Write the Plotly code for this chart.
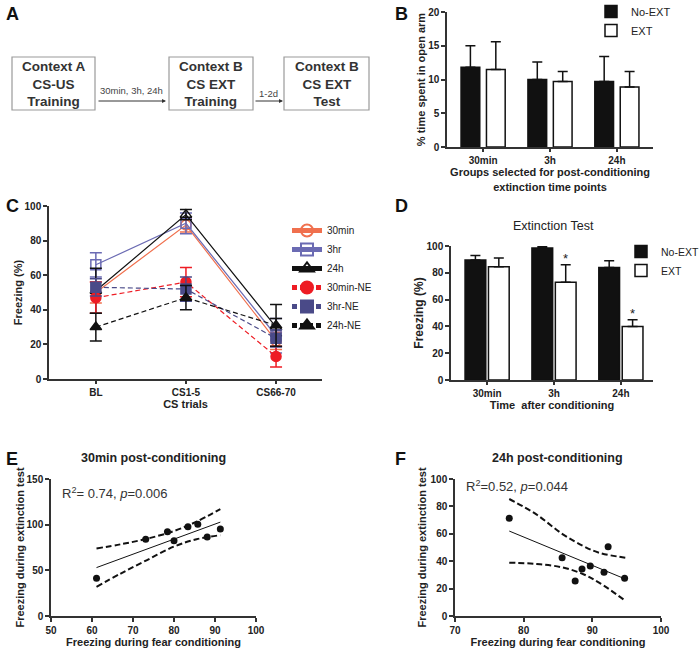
import plotly.graph_objects as go

W, H = 700, 649
FONT = "Liberation Sans, Arial, sans-serif"
INK = "#222222"

# ---------------- data ----------------
b_groups = ["30min", "3h", "24h"]
b_noext = [11.8, 10.0, 9.7]
b_noext_err = [3.2, 2.6, 3.7]
b_ext = [11.5, 9.7, 8.9]
b_ext_err = [4.1, 1.5, 2.3]

c_trials = ["BL", "CS1-5", "CS66-70"]
c_30min = [50, 89, 22]
c_30min_err = [6, 4, 5]
c_3hr = [66, 90, 25]
c_3hr_err = [7, 6, 10]
c_24h = [51, 95, 30]
c_24h_err = [13, 3, 5]
c_30min_ne = [47, 56, 13]
c_30min_ne_err = [9, 8.5, 6]
c_3hr_ne = [53, 52, 23.5]
c_3hr_ne_err = [5, 7, 5]
c_24h_ne = [30, 47, 31]
c_24h_ne_err = [8, 7, 12]

d_groups = ["30min", "3h", "24h"]
d_noext = [89.5, 98.5, 84]
d_noext_err = [3.5, 1, 5]
d_ext = [84.5, 73, 40]
d_ext_err = [6.5, 13, 5]
d_sig = ["", "*", "*"]

e_x = [61.1, 73.1, 78.4, 80.0, 83.4, 85.8, 88.1, 91.3]
e_y = [41.3, 84.0, 92.3, 82.5, 97.8, 100.4, 86.5, 95.3]
e_fit_x = [61.1, 91.3]
e_fit_y = [53, 102.8]
e_band_x = [61.1, 67, 73.3, 80, 85.5, 91.3]
e_upper = [74, 78.5, 84.5, 93, 103.3, 117]
e_lower = [32, 46.5, 61, 76, 84, 88.5]

f_x = [77.9, 85.6, 87.5, 88.5, 89.7, 91.7, 92.3, 94.7]
f_y = [71.3, 42.6, 25.5, 34.3, 36.5, 31.9, 50.6, 27.5]
f_fit_x = [77.9, 94.8]
f_fit_y = [62, 27]
f_band_x = [77.9, 81.9, 85.6, 88.7, 91.1, 94.8]
f_upper = [85.4, 74, 60, 51, 46, 42.6]
f_lower = [38.9, 38, 35.5, 30.5, 24, 11.2]


def xd(px):
    return px / W


def yd(py):
    return 1 - py / H


fig = go.Figure()

# ---------------- Panel B ----------------
fig.add_trace(go.Bar(x=b_groups, y=b_noext, name="No-EXT", marker=dict(color="#111111", line=dict(color="#111111", width=1.5)),
                     width=0.28, offset=-0.33,
                     error_y=dict(type="data", array=b_noext_err, arrayminus=[0] * 3, symmetric=False, color="#111111", thickness=1.5, width=5),
                     xaxis="x", yaxis="y", legend="legend"))
fig.add_trace(go.Bar(x=b_groups, y=b_ext, name="EXT", marker=dict(color="white", line=dict(color="#111111", width=1.5)),
                     width=0.28, offset=0.05,
                     error_y=dict(type="data", array=b_ext_err, arrayminus=[0] * 3, symmetric=False, color="#111111", thickness=1.5, width=5),
                     xaxis="x", yaxis="y", legend="legend"))

# ---------------- Panel C ----------------
c_series = [
    ("30min", c_30min, c_30min_err, "#F0704E", "circle-open", "solid", "legend2"),
    ("3hr", c_3hr, c_3hr_err, "#6B6BB3", "square-open", "solid", "legend2"),
    ("24h", c_24h, c_24h_err, "#111111", "triangle-up-open", "solid", "legend2"),
    ("30min-NE", c_30min_ne, c_30min_ne_err, "#EE1C24", "circle", "5px,3px", "legend4"),
    ("3hr-NE", c_3hr_ne, c_3hr_ne_err, "#4A4A88", "square", "5px,3px", "legend4"),
    ("24h-NE", c_24h_ne, c_24h_ne_err, "#111111", "triangle-up", "5px,3px", "legend4"),
]
for name, vals, errs, col, sym, dash, leg in c_series:
    fig.add_trace(go.Scatter(x=c_trials, y=vals, name=name, mode="lines+markers",
                             line=dict(color=col, width=1.2, dash=dash),
                             marker=dict(symbol=sym, size=10, color=col, line=dict(color=col, width=1.5)),
                             error_y=dict(type="data", array=errs, color=col, thickness=1.5, width=6),
                             xaxis="x2", yaxis="y2", legend=leg))

# ---------------- Panel D ----------------
fig.add_trace(go.Bar(x=d_groups, y=d_noext, name="No-EXT", marker=dict(color="#111111", line=dict(color="#111111", width=1.5)),
                     width=0.31, offset=-0.33,
                     error_y=dict(type="data", array=d_noext_err, arrayminus=[0] * 3, symmetric=False, color="#111111", thickness=1.5, width=5),
                     xaxis="x3", yaxis="y3", legend="legend3"))
fig.add_trace(go.Bar(x=d_groups, y=d_ext, name="EXT", marker=dict(color="white", line=dict(color="#111111", width=1.5)),
                     width=0.31, offset=0.02,
                     error_y=dict(type="data", array=d_ext_err, arrayminus=[0] * 3, symmetric=False, color="#111111", thickness=1.5, width=5),
                     xaxis="x3", yaxis="y3", legend="legend3"))
for i, s in enumerate(d_sig):
    if s:
        fig.add_annotation(x=i + 0.175, y=d_ext[i] + d_ext_err[i], text=s, showarrow=False, yshift=6,
                           xanchor="center", yanchor="middle",
                           xref="x3", yref="y3", font=dict(family=FONT, size=13, color=INK))

# ---------------- Panel E ----------------
BAND = dict(color="#111111", width=2, dash="6px,3px", shape="spline")
fig.add_trace(go.Scatter(x=e_band_x, y=e_upper, mode="lines", line=BAND, showlegend=False, xaxis="x4", yaxis="y4"))
fig.add_trace(go.Scatter(x=e_band_x, y=e_lower, mode="lines", line=BAND, showlegend=False, xaxis="x4", yaxis="y4"))
fig.add_trace(go.Scatter(x=e_fit_x, y=e_fit_y, mode="lines", line=dict(color="#111111", width=1),
                         showlegend=False, xaxis="x4", yaxis="y4"))
fig.add_trace(go.Scatter(x=e_x, y=e_y, mode="markers", marker=dict(color="#111111", size=7),
                         showlegend=False, xaxis="x4", yaxis="y4"))

# ---------------- Panel F ----------------
fig.add_trace(go.Scatter(x=f_band_x, y=f_upper, mode="lines", line=BAND, showlegend=False, xaxis="x5", yaxis="y5"))
fig.add_trace(go.Scatter(x=f_band_x, y=f_lower, mode="lines", line=BAND, showlegend=False, xaxis="x5", yaxis="y5"))
fig.add_trace(go.Scatter(x=f_fit_x, y=f_fit_y, mode="lines", line=dict(color="#111111", width=1),
                         showlegend=False, xaxis="x5", yaxis="y5"))
fig.add_trace(go.Scatter(x=f_x, y=f_y, mode="markers", marker=dict(color="#111111", size=7),
                         showlegend=False, xaxis="x5", yaxis="y5"))

# ---------------- axes ----------------
tickfont = dict(family=FONT, size=10, color=INK, weight="bold")
titlefont = dict(family=FONT, size=11, color=INK, weight="bold")


def ax(domain, **kw):
    d = dict(domain=domain, showline=True, linecolor="#333333", linewidth=1.5, ticks="outside",
             ticklen=4, tickwidth=1.5, tickcolor="#333333", showgrid=False, zeroline=False,
             tickfont=tickfont, automargin=False, title=dict(font=titlefont))
    d.update(kw)
    return d


legfont = dict(family=FONT, size=10, color=INK)
layout = dict(
    width=W, height=H, margin=dict(l=0, r=0, t=0, b=0, autoexpand=False), plot_bgcolor="white", paper_bgcolor="white",
    font=dict(family=FONT, color=INK), barmode="overlay",
    xaxis=ax([xd(447), xd(653)], anchor="y", type="category", range=[-0.54, 2.54], ticklen=3,
             title=dict(text="Groups selected for post-conditioning<br>extinction time points", font=titlefont, standoff=4)),
    yaxis=ax([yd(147), yd(12)], anchor="x", range=[0, 20], tickvals=[0, 5, 10, 15, 20],
             title=dict(text="% time spent in open arm", font=titlefont, standoff=0)),
    xaxis2=ax([xd(49), xd(322)], anchor="y2", type="category", range=[-0.52, 2.51], ticklen=3,
              title=dict(text="CS trials", font=titlefont, standoff=2)),
    yaxis2=ax([yd(379), yd(206)], anchor="x2", range=[0, 100], tickvals=[0, 20, 40, 60, 80, 100],
              title=dict(text="Freezing (%)", font=titlefont, standoff=0)),
    xaxis3=ax([xd(451), xd(653)], anchor="y3", type="category", range=[-0.54, 2.48], ticklen=3,
              title=dict(text="Time  after conditioning", font=titlefont, standoff=2)),
    yaxis3=ax([yd(380), yd(246)], anchor="x3", range=[0, 100], tickvals=[0, 20, 40, 60, 80, 100],
              title=dict(text="Freezing (%)", font=dict(family=FONT, size=12, color=INK, weight="bold"), standoff=0)),
    xaxis4=ax([xd(51), xd(256)], anchor="y4", range=[50, 100], tickvals=[50, 60, 70, 80, 90, 100],
              title=dict(text="Freezing during fear conditioning", font=titlefont, standoff=4)),
    yaxis4=ax([yd(616), yd(479)], anchor="x4", range=[0, 150], tickvals=[0, 50, 100, 150],
              title=dict(text="Freezing during extinction test", font=titlefont, standoff=0)),
    xaxis5=ax([xd(455), xd(661)], anchor="y5", range=[70, 100], tickvals=[70, 80, 90, 100],
              title=dict(text="Freezing during fear conditioning", font=titlefont, standoff=4)),
    yaxis5=ax([yd(616), yd(479)], anchor="x5", range=[0, 100], tickvals=[0, 20, 40, 60, 80, 100],
              title=dict(text="Freezing during extinction test", font=titlefont, standoff=2)),
    legend=dict(x=xd(591), y=yd(-3), xanchor="left", yanchor="top", bgcolor="rgba(0,0,0,0)",
                font=dict(family=FONT, size=11, color=INK), itemwidth=30, tracegroupgap=0),
    legend2=dict(x=xd(287), y=yd(216), xanchor="left", yanchor="top", bgcolor="rgba(0,0,0,0)",
                 font=legfont, itemwidth=30, itemsizing="constant"),
    legend4=dict(x=xd(287), y=yd(273), xanchor="left", yanchor="top", bgcolor="rgba(0,0,0,0)",
                 font=legfont, itemwidth=30, itemsizing="constant"),
    legend3=dict(x=xd(621), y=yd(237), xanchor="left", yanchor="top", bgcolor="rgba(0,0,0,0)",
                 font=dict(family=FONT, size=10.5, color=INK), itemwidth=30),
)
fig.update_layout(**layout)

# ---------------- panel letters & titles ----------------
letters = [("A", 4, 2), ("B", 393, 2), ("C", 4, 194), ("D", 393, 194), ("E", 4, 447), ("F", 393, 447)]
for t, x, y in letters:
    fig.add_annotation(x=xd(x), y=yd(y), xref="paper", yref="paper", xanchor="left", yanchor="top",
                       text=t, showarrow=False, font=dict(family=FONT, size=18, color="#111111", weight="bold"))


def label(x, y, text, size, bold=False, color=INK, xanchor="center"):
    f = dict(family=FONT, size=size, color=color)
    if bold:
        f["weight"] = "bold"
    fig.add_annotation(x=xd(x), y=yd(y), xref="paper", yref="paper", text=text, showarrow=False,
                       xanchor=xanchor, yanchor="middle", font=f)


label(553, 226, "Extinction Test", 12.5)
label(153, 458, "30min post-conditioning", 12.5, bold=True)
label(557, 458, "24h post-conditioning", 12.5, bold=True)
label(60, 493, "R<sup>2</sup>= 0.74, <i>p</i>=0.006", 13, color="#333333", xanchor="left")
label(464, 486, "R<sup>2</sup>=0.52, <i>p</i>=0.044", 13, color="#333333", xanchor="left")

# ---------------- Panel A diagram ----------------
boxes = [
    (12, 95, "Context A<br>CS-US<br>Training"),
    (169, 253, "Context B<br>CS EXT<br>Training"),
    (284, 369, "Context B<br>CS EXT<br>Test"),
]
for x0, x1, txt in boxes:
    fig.add_shape(type="rect", xref="paper", yref="paper", x0=xd(x0), x1=xd(x1), y0=yd(110), y1=yd(57),
                  line=dict(color="#9a9a9a", width=1.2), fillcolor="white", layer="below")
    label((x0 + x1) / 2, 83.5, txt, 13.5, bold=True, color="#333333")

arrows = [(97, 166, "30min, 3h, 24h", 91), (254, 283, "1-2d", 94)]
for x0, x1, lab, ly in arrows:
    fig.add_annotation(x=xd(x1), y=yd(101), xref="paper", yref="paper", ax=x0 - x1, ay=0, text="",
                       showarrow=True, arrowhead=2, arrowsize=0.8, arrowwidth=1, arrowcolor="#333333")
    label((x0 + x1) / 2, ly, lab, 9.5, color="#444444")

fig.write_html("out.html", config={"displayModeBar": False},
               post_script="document.body.style.margin='0';document.body.style.overflow='hidden';")
